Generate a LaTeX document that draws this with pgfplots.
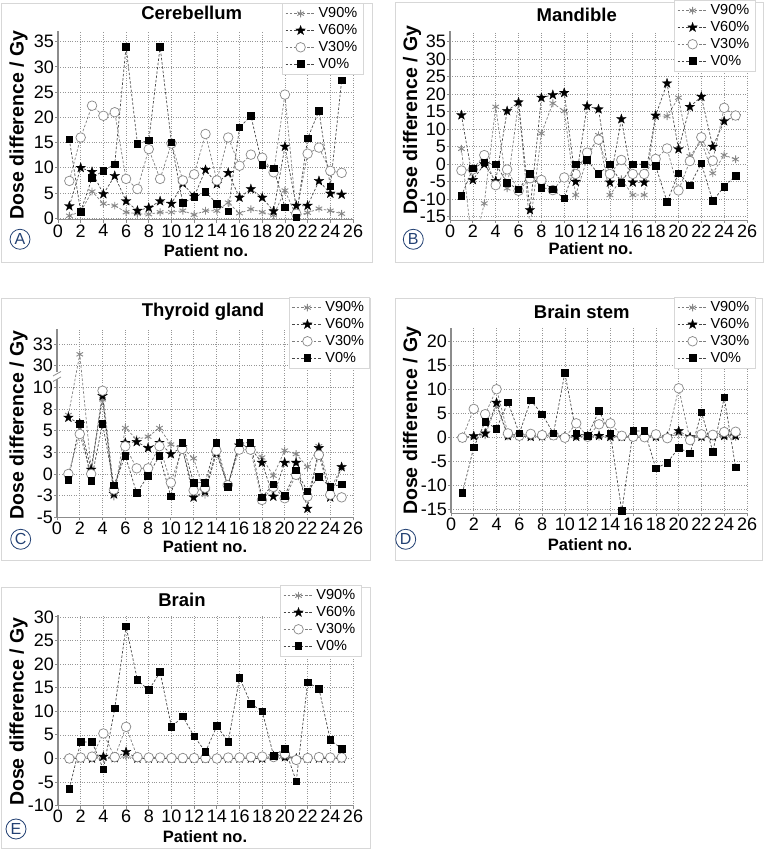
\documentclass[border=0pt]{standalone}
\usepackage{pgfplots}
\pgfplotsset{compat=1.18}
\usepackage{fontspec}
\setmainfont{Liberation Sans}

\definecolor{darkline}{RGB}{70,70,70}
\definecolor{lightline}{RGB}{125,125,125}
\definecolor{markgray}{RGB}{135,135,135}
\definecolor{gridgray}{RGB}{150,150,150}
\definecolor{axgray}{RGB}{140,140,140}
\definecolor{framegray}{RGB}{215,215,215}
\definecolor{navy}{RGB}{35,65,115}

% filled five-point star
\pgfdeclareplotmark{fstar}{%
  \pgfpathmoveto{\pgfpointpolar{90}{1.25\pgfplotmarksize}}%
  \pgfpathlineto{\pgfpointpolar{126}{0.5\pgfplotmarksize}}%
  \pgfpathlineto{\pgfpointpolar{162}{1.25\pgfplotmarksize}}%
  \pgfpathlineto{\pgfpointpolar{198}{0.5\pgfplotmarksize}}%
  \pgfpathlineto{\pgfpointpolar{234}{1.25\pgfplotmarksize}}%
  \pgfpathlineto{\pgfpointpolar{270}{0.5\pgfplotmarksize}}%
  \pgfpathlineto{\pgfpointpolar{306}{1.25\pgfplotmarksize}}%
  \pgfpathlineto{\pgfpointpolar{342}{0.5\pgfplotmarksize}}%
  \pgfpathlineto{\pgfpointpolar{18}{1.25\pgfplotmarksize}}%
  \pgfpathlineto{\pgfpointpolar{54}{0.5\pgfplotmarksize}}%
  \pgfpathclose
  \pgfusepathqfillstroke}

\pgfplotsset{
  panel/.style={
    scale only axis, anchor=south west,
    xmin=0, xmax=26, xtick={0,2,...,26},
    axis lines*=left,
    axis line style={axgray, line width=1.2pt},
    tick style={axgray, line width=0.8pt},
    major tick length=3pt, tick align=outside,
    grid=major,
    major grid style={gridgray, dotted, line width=0.6pt},
    tick label style={font=\fontsize{18}{18}\selectfont},
    yticklabel style={inner xsep=1pt},
    xticklabel style={inner ysep=1.5pt},
    /pgf/number format/assume math mode=true,
    legend cell align=left,
    legend style={font=\fontsize{14.5}{15}\selectfont, draw=framegray, fill=white,
      anchor=north east, nodes={inner sep=2.6pt}, row sep=0pt},
    legend image code/.code={\draw[mark repeat=2,mark phase=2,##1]
      plot coordinates {(0pt,0pt) (15pt,0pt) (30pt,0pt)};},
  },
  s90/.style={lightline, dash pattern=on 2.5pt off 1.8pt, line width=0.7pt,
    mark=asterisk, mark size=3.8pt, mark options={solid, markgray, line width=0.9pt}},
  s60/.style={darkline, dash pattern=on 2.5pt off 1.8pt, line width=0.7pt,
    mark=fstar, mark size=4pt, mark options={solid, black, fill=black, line width=0.3pt}},
  s30/.style={lightline, dash pattern=on 2.5pt off 1.8pt, line width=0.7pt,
    mark=*, mark size=4.8pt, mark options={solid, draw=markgray, fill=white, line width=0.7pt}},
  s0/.style={darkline, dash pattern=on 2.5pt off 1.8pt, line width=0.7pt,
    mark=square*, mark size=3.3pt, mark options={solid, black, fill=black}},
}

\begin{document}
\begin{tikzpicture}[x=1pt,y=1pt]
\useasboundingbox (0,0) rectangle (767,850);

% panel frames
\draw[framegray, line width=0.8pt] (1,588) rectangle (372,847);
\draw[framegray, line width=0.8pt] (395,588) rectangle (763,848);
\draw[framegray, line width=0.8pt] (1,290) rectangle (370,552);
\draw[framegray, line width=0.8pt] (395,290) rectangle (762,552);
\draw[framegray, line width=0.8pt] (1,2) rectangle (370,263);

% ---------- A: Cerebellum ----------
\begin{axis}[panel, at={(58pt,630.2pt)}, width=295pt, height=188.3pt,
  ymin=-0.3, ymax=37, ytick={0,5,...,35},
  legend style={at={(1.034,1.151)}}]
\addplot[s90] coordinates {(1,0.5)(2,1.3)(3,5.3)(4,2.9)(5,2.5)(6,1.2)(7,0.9)(8,0.8)(9,1.2)(10,1.2)(11,1.5)(12,0.7)(13,1.5)(14,1.5)(15,3.1)(16,1.0)(17,1.8)(18,1.2)(19,0.6)(20,5.5)(21,0.4)(22,1.1)(23,1.9)(24,1.5)(25,0.9)};
\addplot[s60] coordinates {(1,2.4)(2,10)(3,9.2)(4,4.8)(5,8.4)(6,3.4)(7,1.5)(8,2.1)(9,3.4)(10,2.9)(11,6.9)(12,4.3)(13,9.6)(14,6.8)(15,9)(16,4.1)(17,5.8)(18,4.1)(19,1.4)(20,14.2)(21,2.5)(22,2.5)(23,7.4)(24,4.9)(25,4.7)};
\addplot[s30] coordinates {(1,7.4)(2,16)(3,22.3)(4,20.3)(5,21)(6,7.8)(7,5.8)(8,13.7)(9,7.8)(10,14.8)(11,7.5)(12,8.7)(13,16.7)(14,7.5)(15,16)(16,10.4)(17,12.6)(18,12)(19,9.1)(20,24.5)(21,0.9)(22,12.8)(23,14)(24,9.4)(25,9)};
\addplot[s0] coordinates {(1,15.6)(2,1.3)(3,8)(4,9.4)(5,10.7)(6,34)(7,14.8)(8,15.4)(9,34)(10,15)(11,3)(12,4.2)(13,5.2)(14,2.9)(15,1.4)(16,18)(17,20.3)(18,10.6)(19,9.9)(20,2.2)(21,0.2)(22,15.8)(23,21.3)(24,6.3)(25,27.3)};
\legend{V90\%, V60\%, V30\%, V0\%}
\end{axis}

% ---------- B: Mandible ----------
\begin{axis}[panel, at={(450pt,629.8pt)}, width=297pt, height=189pt,
  ymin=-16, ymax=38, ytick={-15,-10,...,35}, clip marker paths=true,
  legend style={at={(1.027,1.165)}}]
\addplot[s90] coordinates {(1,4.4)(2,-25)(3,-11.2)(4,16.4)(5,-6.9)(6,17.6)(7,-18)(8,8.8)(9,17.4)(10,15.2)(11,-8.8)(12,1.5)(13,8.3)(14,-8.8)(15,-4.3)(16,-8.8)(17,-8.8)(18,13.8)(19,13.7)(20,19)(21,2.3)(22,6.5)(23,-2.6)(24,2.6)(25,1.4)};
\addplot[s60] coordinates {(1,14)(2,-4.5)(3,0)(4,-4.8)(5,15.2)(6,17.7)(7,-13.1)(8,19)(9,19.8)(10,20.4)(11,-5)(12,16.6)(13,15.7)(14,-5.2)(15,12.9)(16,-5.2)(17,-5.2)(18,13.9)(19,23.1)(20,4.3)(21,16.4)(22,19.3)(23,5)(24,12.3)(25,13.8)};
\addplot[s30] coordinates {(1,-1.8)(2,-1.5)(3,2.6)(4,-6)(5,-1.5)(6,-7.6)(7,-4)(8,-4.5)(9,-7.4)(10,-3.8)(11,-2.8)(12,3.3)(13,7)(14,-2.8)(15,1.2)(16,-2.8)(17,-2.8)(18,1.5)(19,4.5)(20,-7.5)(21,0.9)(22,7.7)(23,1)(24,16.1)(25,13.9)};
\addplot[s0] coordinates {(1,-9.1)(2,-1.2)(3,0.5)(4,0)(5,-5.3)(6,-7.2)(7,-2.8)(8,-6.7)(9,-7.2)(10,-9.8)(11,0)(12,1.2)(13,-2.8)(14,0)(15,-5.3)(16,0)(17,0)(18,-0.5)(19,-10.7)(20,-2.6)(21,-6)(22,0.2)(23,-10.5)(24,-6.4)(25,-3.3)};
\legend{V90\%, V60\%, V30\%, V0\%}
\end{axis}

% ---------- C: Thyroid gland (broken axis: values above 20 moved down by 17.5) ----------
\begin{axis}[panel, at={(57pt,332.7pt)}, width=296pt, height=188.1pt,
  ymin=-5, ymax=16.7, ytick={-5,-2.5,0,2.5,5,7.5,10,12.5,15},
  yticklabels={-5,-3,0,3,5,8,10,30,33},
  y filter/.expression={y>20 ? y-17.5 : y},
  legend style={at={(1.057,1.171)}}]
\addplot[s90] coordinates {(1,6.8)(2,31.3)(3,0.6)(4,8.6)(5,-2.6)(6,5.3)(7,4)(8,4.3)(9,5.3)(10,3.4)(11,3)(12,1.8)(13,-2.4)(14,2.6)(15,-1.3)(16,3.2)(17,3.4)(18,1.9)(19,-0.2)(20,2.7)(21,2.3)(22,0.8)(23,3.2)(24,-1.8)(25,0.8)};
\addplot[s60] coordinates {(1,6.5)(2,5.8)(3,0.5)(4,9)(5,-2.3)(6,3.6)(7,3.7)(8,3)(9,3.6)(10,2.3)(11,3.1)(12,-2.7)(13,-2)(14,2.4)(15,-1.3)(16,3.3)(17,3)(18,1.3)(19,-2.6)(20,1.3)(21,1.3)(22,-4)(23,3)(24,-2.7)(25,0.8)};
\addplot[s30] coordinates {(1,0)(2,4.6)(3,0)(4,9.6)(5,-1.8)(6,3.2)(7,0.65)(8,0.65)(9,3.2)(10,-1)(11,2.9)(12,-1.9)(13,-1.6)(14,2.7)(15,-1.3)(16,2.8)(17,2.8)(18,-3)(19,-1.5)(20,-2.8)(21,-0.1)(22,-2.6)(23,2.2)(24,-2.4)(25,-2.7)};
\addplot[s0] coordinates {(1,-0.7)(2,5.8)(3,-0.8)(4,5.8)(5,-1.3)(6,2.1)(7,-2.2)(8,-0.2)(9,2.1)(10,-2.6)(11,3.6)(12,-1)(13,-1)(14,3.6)(15,-1.5)(16,3.6)(17,3.6)(18,-2.7)(19,-1.2)(20,-2.5)(21,0.4)(22,-2)(23,-0.3)(24,-1.5)(25,-1.2)};
\legend{V90\%, V60\%, V30\%, V0\%}
\end{axis}
% axis break
\fill[white] (54,470.5) rectangle (60,477.5);
\draw[axgray, line width=0.8pt] (53,468.5) -- (61,473);
\draw[axgray, line width=0.8pt] (53,474) -- (61,478.5);

% ---------- D: Brain stem ----------
\begin{axis}[panel, at={(451pt,336.7pt)}, width=296pt, height=185pt,
  ymin=-15.75, ymax=22.8, ytick={-15,-10,...,20},
  legend style={at={(1.027,1.169)}}]
\addplot[s90] coordinates {(1,0)(2,0.2)(3,0.5)(4,6.8)(5,0.3)(6,0.3)(7,0.2)(8,0.2)(9,0.3)(10,0.1)(11,0.2)(12,0.2)(13,0.2)(14,0.1)(15,0.1)(16,0.1)(17,0.1)(18,0.1)(19,0.1)(20,0.8)(21,0.1)(22,0.1)(23,0.2)(24,0.2)(25,0.2)};
\addplot[s60] coordinates {(1,0)(2,0.35)(3,0.9)(4,7.3)(5,0.35)(6,0.4)(7,0.2)(8,0.3)(9,0.5)(10,0.2)(11,0.2)(12,0.4)(13,0.4)(14,0.2)(15,0.2)(16,0.2)(17,0.2)(18,0.2)(19,0.2)(20,1.4)(21,0.1)(22,0.2)(23,0.3)(24,0.4)(25,0.4)};
\addplot[s30] coordinates {(1,0)(2,6)(3,4.9)(4,10.1)(5,0.9)(6,0.4)(7,0.8)(8,0.55)(9,0.5)(10,0)(11,3)(12,0.2)(13,2.8)(14,3)(15,0.4)(16,0.2)(17,0.1)(18,0.7)(19,-0.1)(20,10.3)(21,-0.5)(22,0.7)(23,0.6)(24,1.2)(25,1.25)};
\addplot[s0] coordinates {(1,-11.5)(2,-2)(3,3.3)(4,1.9)(5,7.4)(6,0.9)(7,7.8)(8,4.9)(9,0.9)(10,13.5)(11,0.9)(12,0.4)(13,5.6)(14,0.9)(15,-15.3)(16,1.4)(17,1.4)(18,-6.4)(19,-5.2)(20,-2.1)(21,-3.3)(22,5.3)(23,-2.9)(24,8.4)(25,-6.2)};
\legend{V90\%, V60\%, V30\%, V0\%}
\end{axis}

% ---------- E: Brain ----------
\begin{axis}[panel, at={(58pt,44.3pt)}, width=295pt, height=190.7pt,
  ymin=-10, ymax=30.4, ytick={-10,-5,...,30},
  legend style={at={(1.027,1.157)}}]
\addplot[s90] coordinates {(1,0)(2,0)(3,0)(4,0.1)(5,0)(6,0.5)(7,0)(8,0)(9,0)(10,0)(11,0)(12,0)(13,0)(14,0)(15,0)(16,0)(17,0)(18,0)(19,0.1)(20,0.2)(21,0)(22,0)(23,0)(24,0)(25,0)};
\addplot[s60] coordinates {(1,0)(2,0)(3,0)(4,0.4)(5,0.1)(6,1.4)(7,0)(8,0)(9,0)(10,0)(11,0)(12,0)(13,0)(14,0)(15,0)(16,0)(17,0)(18,0)(19,0.5)(20,0.3)(21,0)(22,0)(23,0)(24,0)(25,0)};
\addplot[s30] coordinates {(1,0)(2,0.2)(3,0.4)(4,5.3)(5,0.3)(6,6.7)(7,0.3)(8,0.2)(9,0.2)(10,0.1)(11,0.1)(12,0.1)(13,0.1)(14,0)(15,0.2)(16,0.2)(17,0.3)(18,0.4)(19,0.3)(20,1)(21,-0.3)(22,0.1)(23,0.3)(24,0.2)(25,0.2)};
\addplot[s0] coordinates {(1,-6.4)(2,3.5)(3,3.5)(4,-2.3)(5,10.6)(6,28)(7,16.6)(8,14.5)(9,18.3)(10,6.7)(11,8.9)(12,4.7)(13,1.4)(14,6.9)(15,3.5)(16,17.1)(17,11.6)(18,10)(19,0.6)(20,2.1)(21,-4.8)(22,16.1)(23,14.8)(24,3.9)(25,2.1)};
\legend{V90\%, V60\%, V30\%, V0\%}
\end{axis}

% titles
\tikzset{ttl/.style={font=\fontsize{18.5}{20}\selectfont\bfseries},
  ylab/.style={rotate=90, font=\fontsize{19.5}{20}\selectfont\bfseries},
  xlab/.style={font=\fontsize{16.5}{18}\selectfont\bfseries},
  tag/.style={circle, draw=navy, text=navy, line width=0.8pt, inner sep=0pt,
    minimum size=20pt, font=\fontsize{16}{16}\selectfont}}
\node[ttl] at (191.7,837.3) {Cerebellum};
\node[ttl] at (576.7,835) {Mandible};
\node[ttl] at (203,538.3) {Thyroid gland};
\node[ttl] at (581.7,538.3) {Brain stem};
\node[ttl] at (182,250) {Brain};

\node[ylab] at (18.5,725) {Dose difference / Gy};
\node[ylab] at (412,730) {Dose difference / Gy};
\node[ylab] at (18.5,425) {Dose difference / Gy};
\node[ylab] at (412,429.3) {Dose difference / Gy};
\node[ylab] at (18.5,138.3) {Dose difference / Gy};

\node[xlab] at (206,599.3) {Patient no.};
\node[xlab] at (590.7,601.7) {Patient no.};
\node[xlab] at (205,303) {Patient no.};
\node[xlab] at (590,305) {Patient no.};
\node[xlab] at (205,13.3) {Patient no.};

\node[tag] at (20,610.7) {A};
\node[tag] at (413.3,610.7) {B};
\node[tag] at (20.7,310.7) {C};
\node[tag] at (405.7,310.7) {D};
\node[tag] at (16,21) {E};
\end{tikzpicture}
\end{document}
